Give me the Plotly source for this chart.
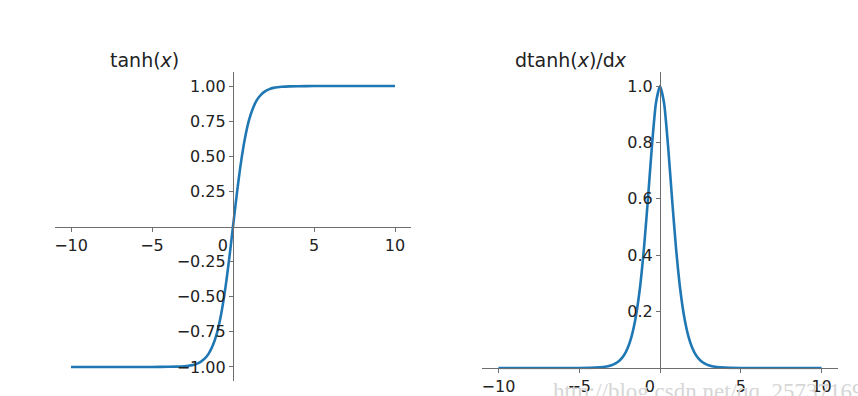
import plotly.graph_objects as go

# values
x_vals = [-10, -8, -6, -5, -4, -3.5, -3, -2.75, -2.5, -2.25, -2, -1.75, -1.5, -1.25, -1, -0.75, -0.5, -0.25,
          0, 0.25, 0.5, 0.75, 1, 1.25, 1.5, 1.75, 2, 2.25, 2.5, 2.75, 3, 3.5, 4, 5, 6, 8, 10]
tanh_vals = [-1.0, -1.0, -1.0, -1.0, -0.999, -0.998, -0.995, -0.992, -0.987, -0.978, -0.964, -0.941, -0.905,
             -0.848, -0.762, -0.635, -0.462, -0.245, 0.0, 0.245, 0.462, 0.635, 0.762, 0.848, 0.905, 0.941,
             0.964, 0.978, 0.987, 0.992, 0.995, 0.998, 0.999, 1.0, 1.0, 1.0, 1.0]
dtanh_vals = [0.0, 0.0, 0.0, 0.0002, 0.0013, 0.0036, 0.0099, 0.0163, 0.0266, 0.0433, 0.0707, 0.1142, 0.1807,
              0.2800, 0.4200, 0.5966, 0.7864, 0.9400, 1.0, 0.9400, 0.7864, 0.5966, 0.4200, 0.2800, 0.1807,
              0.1142, 0.0707, 0.0433, 0.0266, 0.0163, 0.0099, 0.0036, 0.0013, 0.0002, 0.0, 0.0, 0.0]
x_ticks = [-10, -5, 0, 5, 10]
x_tick_text = ["\u221210", "\u22125", "0\u00a0\u00a0\u00a0\u00a0", "5", "10"]
left_y_ticks = [-1.0, -0.75, -0.5, -0.25, 0.25, 0.5, 0.75, 1.0]
left_y_text = ["\u22121.00", "\u22120.75", "\u22120.50", "\u22120.25", "0.25", "0.50", "0.75", "1.00"]
right_y_ticks = [0.2, 0.4, 0.6, 0.8, 1.0]
right_y_text = ["0.2", "0.4", "0.6", "0.8", "1.0"]

W, H = 858, 396
LINE = "#1f77b4"
AX = "#6e6e6e"
TXT = "#222222"
FONT = "DejaVu Sans"

def px_x(p):
    return p / W

def px_y(p):
    return (H - p) / H

fig = go.Figure()
fig.add_trace(go.Scatter(x=x_vals, y=tanh_vals, mode="lines", xaxis="x", yaxis="y",
                         line=dict(color=LINE, width=2.6, shape="spline", smoothing=0.6),
                         showlegend=False, hoverinfo="skip"))
fig.add_trace(go.Scatter(x=x_vals, y=dtanh_vals, mode="lines", xaxis="x2", yaxis="y2",
                         line=dict(color=LINE, width=2.6, shape="spline", smoothing=0.6),
                         showlegend=False, hoverinfo="skip"))

common_axis = dict(showgrid=False, zeroline=False, showline=True, linecolor=AX, linewidth=1.2,
                   ticks="outside", ticklen=4, tickwidth=1, tickcolor=AX,
                   tickfont=dict(family=FONT, size=16, color=TXT), tickmode="array")

fig.update_layout(
    width=W, height=H,
    margin=dict(l=0, r=0, t=0, b=0),
    paper_bgcolor="white", plot_bgcolor="white",
    xaxis=dict(domain=[px_x(54.8), px_x(411.2)], range=[-11, 11], anchor="free",
               position=px_y(226.5), tickvals=x_ticks, ticktext=x_tick_text, **common_axis),
    yaxis=dict(domain=[px_y(381.0), px_y(72.0)], range=[-1.1, 1.1], anchor="free",
               position=px_x(233), tickvals=left_y_ticks, ticktext=left_y_text, **common_axis),
    xaxis2=dict(domain=[px_x(482.3), px_x(837.7)], range=[-11, 11], anchor="free",
                position=px_y(368), tickvals=x_ticks, ticktext=x_tick_text, **common_axis),
    yaxis2=dict(domain=[px_y(369.4), px_y(71.9)], range=[-0.005, 1.05], anchor="free",
                position=px_x(660), tickvals=right_y_ticks, ticktext=right_y_text, **common_axis),
)

fig.add_annotation(text="tanh(<i>x</i>)", xref="paper", yref="paper", x=px_x(108), y=px_y(60),
                   xanchor="left", yanchor="middle", showarrow=False,
                   font=dict(family=FONT, size=19, color=TXT))
fig.add_annotation(text="dtanh(<i>x</i>)/d<i>x</i>", xref="paper", yref="paper", x=px_x(513), y=px_y(60),
                   xanchor="left", yanchor="middle", showarrow=False,
                   font=dict(family=FONT, size=19, color=TXT))
fig.add_annotation(text="http://blog.csdn.net/qq_25737169", xref="paper", yref="paper",
                   x=px_x(551), y=px_y(391), xanchor="left", yanchor="middle", showarrow=False,
                   font=dict(family="Liberation Serif", size=23, color="#d6d6d6"))

fig.write_html("out.html")
